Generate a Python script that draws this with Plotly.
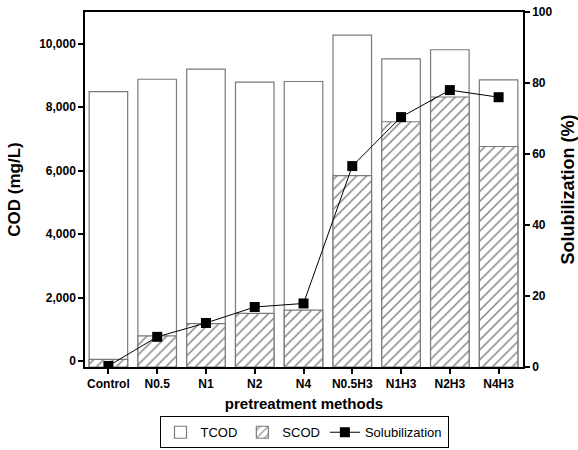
import plotly.graph_objects as go

categories = ["Control", "N0.5", "N1", "N2", "N4", "N0.5H3", "N1H3", "N2H3", "N4H3"]
tcod = [8490, 8880, 9200, 8790, 8810, 10270, 9520, 9810, 8860]
scod = [50, 790, 1180, 1500, 1600, 5840, 7540, 8320, 6760]
solubilization = [0.3, 8.5, 12.4, 16.9, 17.9, 56.6, 70.4, 78.0, 76.0]

y_min = -190
FONT = "Liberation Sans, Arial, sans-serif"

fig = go.Figure()
fig.add_trace(go.Bar(
    x=categories, y=[v - y_min for v in tcod], base=y_min, name="TCOD",
    width=0.79,
    marker=dict(color="white", line=dict(color="#7a7a7a", width=1.2)),
))
fig.add_trace(go.Bar(
    x=categories, y=[v - y_min for v in scod], base=y_min, name="SCOD",
    width=0.79,
    marker=dict(color="white", line=dict(color="#7a7a7a", width=1.2),
                pattern=dict(shape="/", fgcolor="#000000", bgcolor="white",
                             size=7, solidity=0.2)),
))
fig.add_trace(go.Scatter(
    x=categories, y=solubilization, name="Solubilization", yaxis="y2",
    mode="lines+markers",
    line=dict(color="black", width=1),
    marker=dict(symbol="square", size=10, color="black"),
))

fig.update_layout(
    width=578, height=450,
    margin=dict(l=85, r=55, t=12, b=82.5, autoexpand=False),
    paper_bgcolor="white", plot_bgcolor="white",
    barmode="overlay",
    font=dict(family=FONT, color="black"),
    showlegend=True,
    legend=dict(orientation="h", x=0.5, xanchor="center", y=-0.229, yanchor="bottom",
                bordercolor="black", borderwidth=1, bgcolor="white",
                font=dict(size=13, family=FONT), traceorder="normal",
                itemwidth=30, tracegroupgap=0),
    xaxis=dict(
        range=[-0.48, 8.5], showline=True, linecolor="black", linewidth=1.5,
        mirror=True, ticks="outside", ticklen=5, tickwidth=1.5, tickcolor="black",
        tickfont=dict(size=12, family=FONT, weight="bold"),
        title=dict(text="<b>pretreatment methods</b>", font=dict(size=15, family=FONT), standoff=8),
        showgrid=False, zeroline=False, automargin=False,
    ),
    yaxis=dict(
        range=[y_min, 11000], tickvals=[0, 2000, 4000, 6000, 8000, 10000],
        tickformat=",d", showline=True, linecolor="black", linewidth=1.5,
        ticks="outside", ticklen=5, tickwidth=1.5, tickcolor="black",
        tickfont=dict(size=12, family=FONT, weight="bold"),
        title=dict(text="<b>COD (mg/L)</b>", font=dict(size=17, family=FONT), standoff=14),
        showgrid=False, zeroline=False, automargin=False,
    ),
    yaxis2=dict(
        range=[0, 100], tickvals=[0, 20, 40, 60, 80, 100], overlaying="y", side="right",
        showline=True, linecolor="black", linewidth=1.5,
        ticks="outside", ticklen=5, tickwidth=1.5, tickcolor="black",
        tickfont=dict(size=12, family=FONT, weight="bold"),
        title=dict(text="<b>Solubilization (%)</b>", font=dict(size=18, family=FONT), standoff=12),
        showgrid=False, zeroline=False, automargin=False,
    ),
)

fig.write_html("out.html")
